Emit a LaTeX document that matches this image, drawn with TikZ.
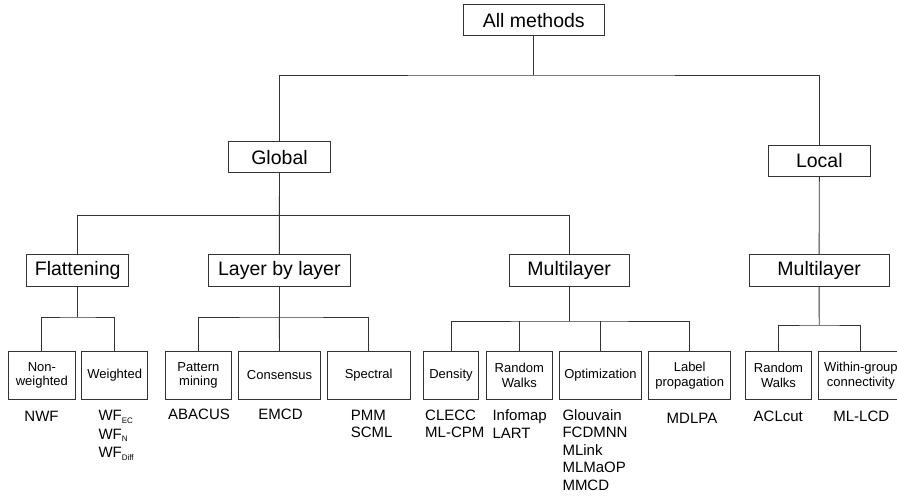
\documentclass[tikz,border=0pt]{standalone}
\usepackage{fontspec}
\setmainfont{Liberation Sans}
\newcommand\mysubl[1]{\raisebox{-2.5pt}{\fontsize{8}{8}\selectfont #1}}
\tikzset{
  box/.style={draw=black!80, line width=0.9pt, inner sep=0pt, align=center, minimum height=31pt},
  lvl/.style={box, font=\fontsize{19.5}{22}\selectfont},
  leaf/.style={box, font=\fontsize{13}{14.5}\selectfont, minimum height=47.5pt},
  lab/.style={inner sep=0pt, font=\fontsize{15}{17.5}\selectfont, align=left},
  conn/.style={draw=black!80, line width=0.9pt},
}
\begin{document}
\begin{tikzpicture}[x=1pt, y=-1pt]
\useasboundingbox (0,0) rectangle (897,496);

% level 0-2
\node[lvl, minimum width=141pt] (allm) at (533.8,20.2) {All methods};
\node[lvl, minimum width=102.4pt] (glob) at (279.5,157.2) {Global};
\node[lvl, minimum width=102pt, minimum height=30.3pt] (loc) at (819.3,160.85) {Local};
\node[lvl, minimum width=102pt, minimum height=31.7pt] (flat) at (77.7,270.15) {Flattening};
\node[lvl, minimum width=141.3pt, minimum height=31.7pt] (lbl) at (279.35,270.15) {Layer by layer};
\node[lvl, minimum width=119.7pt, minimum height=31.7pt] (mlg) at (569.15,270.15) {Multilayer};
\node[lvl, minimum width=140.3pt, minimum height=31.7pt] (mll) at (819.15,270.15) {Multilayer};

% leaves
\node[leaf, minimum width=66.3pt] (nw) at (41.85,375.5) {Non-\\weighted};
\node[leaf, minimum width=66pt] (wt) at (114.7,375.5) {Weighted};
\node[leaf, minimum width=65.3pt] (pm) at (198.35,375.5) {Pattern\\mining};
\node[leaf, minimum width=82.4pt] (cons) at (279.5,375.5) {Consensus};
\node[leaf, minimum width=82.7pt] (spec) at (368.65,375.5) {Spectral};
\node[leaf, minimum width=54.6pt] (dens) at (451,375.5) {Density};
\node[leaf, minimum width=66pt] (rw) at (519.3,375.5) {Random\\Walks};
\node[leaf, minimum width=82.4pt] (opt) at (600.5,375.5) {Optimization};
\node[leaf, minimum width=82pt] (lp) at (689.7,375.5) {Label\\propagation};
\node[leaf, minimum width=65.6pt] (rwl) at (778.5,375.5) {Random\\Walks};
\node[leaf, minimum width=84.3pt] (wg) at (860.85,375.5) {Within-group\\connectivity};

% junctions
\coordinate (j0) at (533.8,75);
\coordinate (j1) at (279.4,215.7);
\coordinate (j2) at (77.7,317);
\coordinate (j3) at (279.35,317);
\coordinate (j4) at (569.15,321);
\coordinate (j5) at (819.2,325);

% connectors
\draw[conn] (allm.south) -- (j0);
\draw[conn] (glob.north) |- (j0) -| (loc.north);
\draw[conn] (glob.south) -- (j1);
\draw[conn] (flat.north) |- (j1) -| (mlg.north);
\draw[conn] (j1) -- (lbl.north);
\draw[conn] (loc.south) -- (mll.north);

\draw[conn] (flat.south) -- (j2);
\draw[conn] (nw.north) |- (j2) -| (wt.north);

\draw[conn] (lbl.south) -- (j3);
\draw[conn] (pm.north) |- (j3) -| (spec.north);
\draw[conn] (j3) -- (cons.north);

\draw[conn] (mlg.south) -- (j4);
\draw[conn] (dens.north) |- (j4) -| (lp.north);
\draw[conn] (rw.north) -- (rw.north |- j4);
\draw[conn] (opt.north) -- (opt.north |- j4);

\draw[conn] (mll.south) -- (j5);
\draw[conn] (rwl.north) |- (j5) -| (wg.north);

% method labels
\node[lab] (l1) at (41.5,416) {NWF};
\node[lab, anchor=north west] (l2) at (98.3,410.3) {WF\mysubl{EC}\\[1pt]WF\mysubl{N}\\[1pt]WF\mysubl{Diff}};
\node[lab] (l3) at (199,414.3) {ABACUS};
\node[lab] (l4) at (280.5,414.3) {EMCD};
\node[lab, anchor=north west] (l5) at (350.7,409.6) {PMM\\SCML};
\node[lab, anchor=north west] (l6) at (425,409.6) {CLECC\\ML-CPM};
\node[lab, anchor=north west] (l7) at (492.3,409.6) {Infomap\\LART};
\node[lab, anchor=north west] (l8) at (562.3,409.3) {Glouvain\\FCDMNN\\MLink\\MLMaOP\\MMCD};
\node[lab] (l9) at (692,418.3) {MDLPA};
\node[lab] (l10) at (778.3,416.7) {ACLcut};
\node[lab] (l11) at (861.3,416.7) {ML-LCD};
\end{tikzpicture}
\end{document}
